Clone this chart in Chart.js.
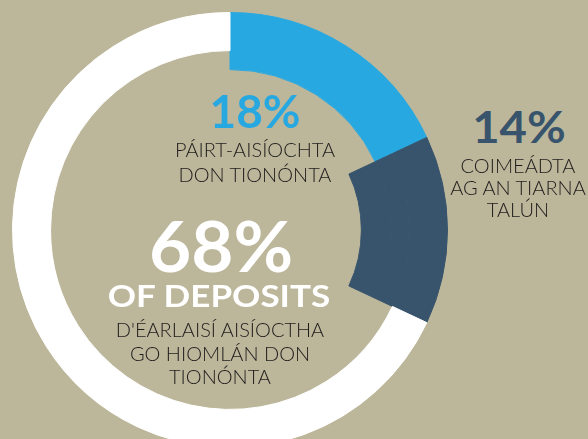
<!DOCTYPE html>
<html>
<head>
<meta charset="utf-8">
<script src="https://cdn.jsdelivr.net/npm/chart.js@4/dist/chart.umd.min.js"></script>
<style>
  html, body { margin: 0; padding: 0; }
  body { width: 588px; height: 439px; overflow: hidden; background: #bcb79b; position: relative; font-family: Lato, "Open Sans", sans-serif; }
  #wrap { position: absolute; left: 0; top: 0; width: 460px; height: 460px; }
  .lbl { position: absolute; transform: translateX(-50%); text-align: center; white-space: nowrap; }
  .big { font-weight: 700; }
  .small { font-size: 20px; font-weight: 300; color: #1f1c1c; }
</style>
</head>
<body>
<div id="wrap"><canvas id="chart" width="460" height="460"></canvas></div>
<div id="labels"></div>
<script>
// 分類與數值 (從頂端順時針)
const categories = ['Páirt-aisíochta', 'Coimeádta', 'Aisíoctha go hiomlán'];
const shares = [18, 14, 68];
const colors = ['#28a8e0', '#38546c', '#ffffff'];
const valueLabels = ['18%', '14%', '68%'];
const subLabels = [
    ['PÁIRT-AISÍOCHTA', 'DON TIONÓNTA'],
    ['COIMEÁDTA', 'AG AN TIARNA', 'TALÚN'],
    ["D'ÉARLAISÍ AISÍOCTHA", 'GO HIOMLÁN DON', 'TIONÓNTA']
];
const headline = 'OF DEPOSITS';

// 每一圈顯示哪些分類 (外圈 -> 內圈)
const ringVisible = [
    [true, true, true],
    [true, true, false],
    [false, true, false]
];
const ringWeights = [38, 19, 29];

const datasets = ringVisible.map((vis, i) => {
    const fill = colors.map((c, j) => vis[j] ? c : 'rgba(0,0,0,0)');
    return {
        label: 'ring' + i,
        data: shares,
        backgroundColor: fill,
        borderColor: fill,
        borderWidth: 1,
        weight: ringWeights[i]
    };
});

new Chart(document.getElementById('chart').getContext('2d'), {
    type: 'doughnut',
    data: { labels: categories, datasets: datasets },
    options: {
        responsive: false,
        animation: false,
        events: [],
        cutout: '60.4%',
        rotation: 0,
        layout: { padding: 12 },
        plugins: { legend: { display: false }, tooltip: { enabled: false } }
    }
});

// 文字標籤
const labelBox = document.getElementById('labels');
function addText(text, cls, x, y, style) {
    const el = document.createElement('div');
    el.className = 'lbl ' + cls;
    el.style.left = x + 'px';
    el.style.top = y + 'px';
    Object.assign(el.style, style || {});
    el.textContent = text;
    labelBox.appendChild(el);
    return el;
}
function addLines(lines, x, y, lineHeight) {
    const el = addText('', 'small', x, y, { lineHeight: lineHeight + 'px' });
    lines.forEach(t => {
        const d = document.createElement('div');
        d.textContent = t;
        el.appendChild(d);
    });
}

addText(valueLabels[0], 'big', 255, 88, { fontSize: '46px', lineHeight: '46px', color: colors[0] });
addLines(subLabels[0], 255, 137, 25);

addText(valueLabels[1], 'big', 519, 105, { fontSize: '43px', lineHeight: '43px', color: colors[1], transform: 'translateX(-50%) scaleX(1.1)' });
addLines(subLabels[1], 518, 154, 22);

addText(valueLabels[2], 'big', 221, 210, { fontSize: '70px', lineHeight: '70px', color: '#ffffff', transform: 'translateX(-50%) scaleX(1.04)' });
addText(headline, 'big', 219, 279.5, { fontSize: '31px', lineHeight: '31px', color: '#ffffff', transform: 'translateX(-50%) scaleX(1.13)' });
addLines(subLabels[2], 220, 318, 23.5);
</script>
</body>
</html>
